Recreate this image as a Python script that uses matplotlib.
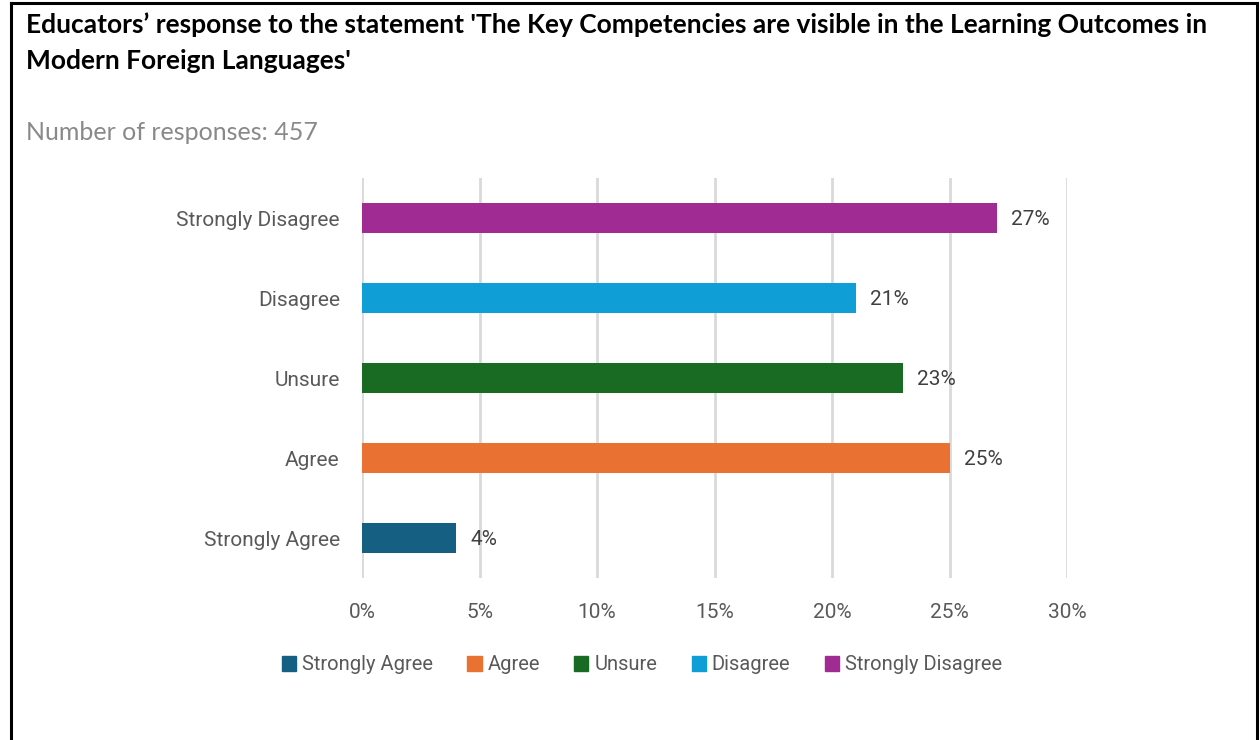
import matplotlib.pyplot as plt
from matplotlib.patches import Rectangle
from matplotlib.ticker import PercentFormatter

# survey answers, bottom to top
categories = ["Strongly Agree", "Agree", "Unsure", "Disagree", "Strongly Disagree"]
percent = [4, 25, 23, 21, 27]
colors = ["#156082", "#E97132", "#196B24", "#0F9ED5", "#A02B93"]
ticks = [0, 5, 10, 15, 20, 25, 30]

title = ("Educators\u2019 response to the statement 'The Key Competencies are visible in the Learning Outcomes in\n"
         "Modern Foreign Languages'")
subtitle = "Number of responses: 457"

W, H = 1260, 740
fig = plt.figure(figsize=(W / 100, H / 100), dpi=100)

# frame round the whole chart (open at the bottom)
fig.add_artist(plt.Line2D([11 / W, 11 / W], [0, 1 - 3 / H], color="black", lw=2.2, transform=fig.transFigure))
fig.add_artist(plt.Line2D([11 / W, 1257 / W], [1 - 3 / H, 1 - 3 / H], color="black", lw=2.2, transform=fig.transFigure))
fig.add_artist(plt.Line2D([1257 / W, 1257 / W], [0, 1 - 3 / H], color="black", lw=2.2, transform=fig.transFigure))

fig.text(26 / W, 1 - 43 / H, title, fontsize=19, fontweight="bold", family="Lato",
         va="center", ha="left", color="black", linespacing=1.6)
fig.text(26 / W, 1 - 133 / H, subtitle, fontsize=18, family="Lato", va="center", ha="left", color="#898989")

ax = fig.add_axes([362 / W, 1 - 578 / H, (1067 - 362) / W, 400 / H])
y = range(len(categories))
bars = ax.barh(y, percent, height=0.375, color=colors, zorder=3)

for b, v in zip(bars, percent):
    ax.text(b.get_width() + 0.62, b.get_y() + b.get_height() / 2 - 0.02, f"{v}%",
            va="center", ha="left", fontsize=15, color="#404040", family="Roboto")

ax.set_xlim(0, 30)
ax.set_ylim(-0.5, len(categories) - 0.5)
ax.set_xticks(ticks)
ax.xaxis.set_major_formatter(PercentFormatter(decimals=0))
ax.set_yticks(list(y))
ax.set_yticklabels(categories)
ax.grid(axis="x", color="#d9d9d9", lw=2, zorder=0)
ax.tick_params(length=0, labelsize=15, colors="#595959")
ax.tick_params(axis="x", pad=18)
ax.tick_params(axis="y", pad=16)
for lbl in ax.get_xticklabels() + ax.get_yticklabels():
    lbl.set_family("Roboto")
for s in ax.spines.values():
    s.set_visible(False)

handles = [Rectangle((0, 0), 1, 1, color=c) for c in colors]
leg = fig.legend(handles, categories, loc="center", bbox_to_anchor=(642 / W, 1 - 665 / H), ncol=5,
                 frameon=False, handlelength=0.7, handleheight=0.7, handletextpad=0.3, columnspacing=1.7,
                 prop={"family": "Roboto", "size": 14.5})
for t in leg.get_texts():
    t.set_color("#595959")

fig.savefig("out.png", dpi=100, facecolor="white")
